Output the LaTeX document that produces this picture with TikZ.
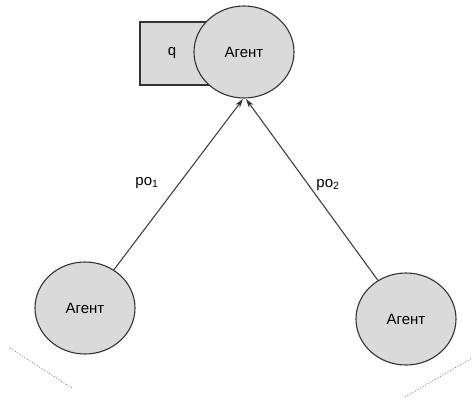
\documentclass[tikz,border=0pt]{standalone}
\usepackage{fontspec}
\setmainfont{Liberation Sans}
\usetikzlibrary{shapes.geometric,arrows.meta}
\definecolor{agfill}{HTML}{DADADA}
\definecolor{agline}{HTML}{333333}
\tikzset{
  agent/.style={ellipse, draw=agline, line width=1.1pt, fill=agfill, minimum width=100pt, minimum height=92pt, inner sep=0pt, font=\fontsize{15}{17}\selectfont},
  qbox/.style={draw=agline, line width=1.1pt, fill=agfill},
  link/.style={draw=agline, line width=1pt, -{Stealth[length=9pt,width=5.5pt]}},
  lbl/.style={font=\fontsize{15}{17}\selectfont, inner sep=0pt},
  dots/.style={draw=gray, line width=0.9pt, dotted}
}
\begin{document}
\begin{tikzpicture}[x=1pt,y=-1pt]
\useasboundingbox (0,0) rectangle (472,400);
\draw[qbox] (140,22) rectangle (225,85);
\node[lbl] (q) at (172,53) {q};
\node[agent] (top) at (244,52) {Агент};
\node[agent] (left) at (85,308) {Агент};
\node[agent] (right) at (406,319) {Агент};
\coordinate (tl) at (243,99);
\coordinate (tr) at (246,99);
\draw[link] (left) -- (tl);
\draw[link] (right) -- (tr);
\node[lbl] (po1) at (147,183) {po\textsubscript{1}};
\node[lbl] (po2) at (328,185) {po\textsubscript{2}};
\coordinate (d1a) at (10,348);
\coordinate (d1b) at (72,388);
\coordinate (d2a) at (405,397);
\coordinate (d2b) at (472,358);
\draw[dots] (d1a) -- (d1b);
\draw[dots] (d2a) -- (d2b);
\end{tikzpicture}
\end{document}
